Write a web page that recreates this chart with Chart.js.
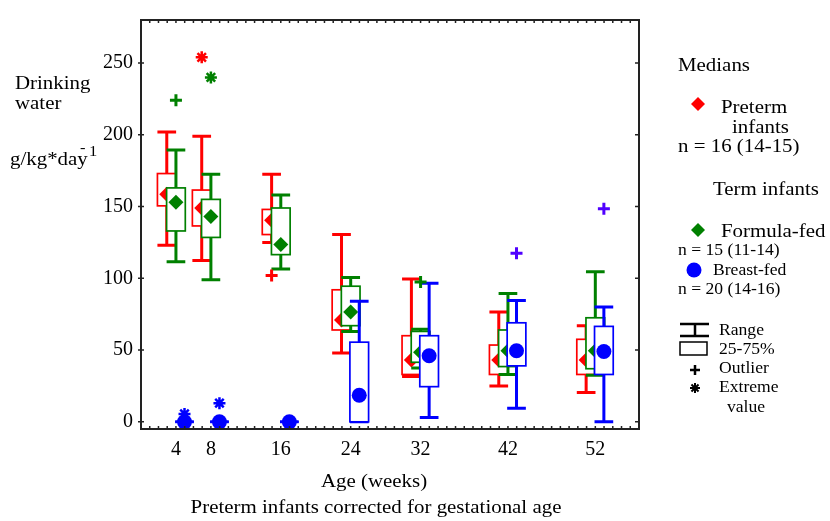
<!DOCTYPE html>
<html>
<head>
<meta charset="utf-8">
<script src="https://cdn.jsdelivr.net/npm/chart.js@4.4.1/dist/chart.umd.min.js"></script>
<style>
  html, body { margin: 0; padding: 0; background: #fff; }
  #wrap { width: 830px; height: 521px; position: relative; }
</style>
</head>
<body>
<div id="wrap"><canvas id="chart"></canvas></div>
<script>
const weeks = [4, 8, 16, 24, 32, 42, 52];
const yTicks = [0, 50, 100, 150, 200, 250];

// preterm infants (red)
const pretermMax    = [202, 199, 172.5, 130.5, 99.5, 76.5, 67];
const pretermQ3     = [173, 161.5, 148, 92, 60, 53.5, 57.5];
const pretermMedian = [158.5, 149, 140.5, 71, 43, 43, 43];
const pretermQ1     = [150.5, 136.5, 130.5, 64, 33, 33, 33];
const pretermMin    = [123, 112.5, 125, 48, 31.5, 25, 20.5];
const pretermOutliers = [[16, 102]];
const pretermExtremes = [[8, 254]];

// term infants, formula-fed (green)
const formulaMax    = [189.5, 172.5, 158, 100.5, 64.5, 89.5, 104.5];
const formulaQ3     = [163, 155, 149, 94.5, 63, 64, 72.5];
const formulaMedian = [153, 143, 123.5, 76.5, 48.5, 49.5, 49.5];
const formulaQ1     = [133, 128.5, 116.5, 67, 41.5, 38.5, 37];
const formulaMin    = [111.5, 99, 106.5, 63, 37.5, 33, 32.5];
const formulaOutliers = [[4, 224], [32, 97.5]];
const formulaExtremes = [[8, 240]];

// term infants, breast-fed (blue)
const breastMax    = [0, 0, 0, 84, 96.5, 84.5, 80];
const breastQ3     = [0, 0, 0, 55.5, 60, 69, 66.5];
const breastMedian = [0, 0, 0, 18.5, 46, 49.5, 49];
const breastQ1     = [0, 0, 0, 0, 24.5, 39, 33];
const breastMin    = [0, 0, 0, 0, 3, 9.5, 0];
const breastOutliers = [[42, 117.5], [52, 148.5]];
const breastExtremes = [[4, 5.5], [8, 13]];

const halfBox = 1.07; // half box width in weeks

const series = [
    { color: '#ff0000', outColor: '#ff0000', shift: -1.05, marker: 'rectRot', order: 30,
      min: pretermMin, q1: pretermQ1, med: pretermMedian, q3: pretermQ3, max: pretermMax,
      out: pretermOutliers, ext: pretermExtremes },
    { color: '#008000', outColor: '#008000', shift: 0, marker: 'rectRot', order: 20,
      min: formulaMin, q1: formulaQ1, med: formulaMedian, q3: formulaQ3, max: formulaMax,
      out: formulaOutliers, ext: formulaExtremes },
    { color: '#0000ff', outColor: '#5000ff', shift: 0.98, marker: 'circle', order: 10,
      min: breastMin, q1: breastQ1, med: breastMedian, q3: breastQ3, max: breastMax,
      out: breastOutliers, ext: breastExtremes }
];

const datasets = [];
series.forEach(s => {
    datasets.push({
        data: weeks.map((w, j) => ({ x: w + s.shift, y: s.med[j] })),
        pointStyle: s.marker,
        pointRadius: 7.5,
        backgroundColor: s.color,
        borderColor: s.color,
        borderWidth: 0,
        order: s.order,
        boxOf: s
    });
});
series.forEach(s => {
    datasets.push({
        data: s.out.map(p => ({ x: p[0] + s.shift, y: p[1] })),
        pointStyle: 'cross', pointRadius: 6, borderWidth: 3,
        borderColor: s.outColor, backgroundColor: s.outColor, order: 0
    });
    datasets.push({
        data: s.ext.map(p => ({ x: p[0] + s.shift, y: p[1] })),
        pointStyle: 'star', pointRadius: 6, borderWidth: 2.5,
        borderColor: s.color, backgroundColor: s.color, order: 0
    });
});

const serif = '"Liberation Serif", "Times New Roman", serif';

function txt(ctx, str, x, y, size, align) {
    ctx.save();
    ctx.font = size + 'px ' + serif;
    ctx.fillStyle = '#000';
    ctx.textBaseline = 'alphabetic';
    ctx.textAlign = align || 'left';
    ctx.translate(x, y);
    ctx.scale(1.1, 1);
    ctx.fillText(str, 0, 0);
    ctx.restore();
}

function diamond(ctx, x, y, r, color) {
    ctx.fillStyle = color;
    ctx.beginPath();
    ctx.moveTo(x, y - r); ctx.lineTo(x + r, y); ctx.lineTo(x, y + r); ctx.lineTo(x - r, y);
    ctx.closePath();
    ctx.fill();
}

// boxes + whiskers drawn just before each series' median markers
const boxPlugin = {
    id: 'boxes',
    beforeDatasetDraw(chart, args) {
        const s = chart.data.datasets[args.index].boxOf;
        if (!s) return;
        const { ctx, scales: { x, y } } = chart;
        ctx.save();
        ctx.strokeStyle = s.color;
        weeks.forEach((w, j) => {
            const cx = x.getPixelForValue(w + s.shift);
            const left = x.getPixelForValue(w + s.shift - halfBox);
            const right = x.getPixelForValue(w + s.shift + halfBox);
            const yMax = y.getPixelForValue(s.max[j]);
            const yMin = y.getPixelForValue(s.min[j]);
            const yQ3 = y.getPixelForValue(s.q3[j]);
            const yQ1 = y.getPixelForValue(s.q1[j]);
            ctx.lineWidth = 3;
            ctx.beginPath();
            ctx.moveTo(cx, yMin); ctx.lineTo(cx, yMax);
            ctx.moveTo(left, yMax); ctx.lineTo(right, yMax);
            ctx.moveTo(left, yMin); ctx.lineTo(right, yMin);
            ctx.stroke();
            ctx.fillStyle = '#fff';
            ctx.fillRect(left, yQ3, right - left, yQ1 - yQ3);
            ctx.lineWidth = 1.7;
            ctx.strokeRect(left, yQ3, right - left, yQ1 - yQ3);
        });
        ctx.restore();
    }
};

// frame, inward ticks, titles and legend
const framePlugin = {
    id: 'frame',
    afterDraw(chart) {
        const { ctx, chartArea: a, scales: { x, y } } = chart;
        ctx.save();
        ctx.strokeStyle = '#222';
        ctx.lineWidth = 2;
        ctx.strokeRect(a.left, a.top, a.right - a.left, a.bottom - a.top);
        ctx.lineWidth = 1.5;
        ctx.beginPath();
        for (let w = 1; w < x.max; w++) {
            const px = x.getPixelForValue(w);
            ctx.moveTo(px, a.bottom); ctx.lineTo(px, a.bottom - 3);
            ctx.moveTo(px, a.top); ctx.lineTo(px, a.top + 3);
        }
        yTicks.forEach(v => {
            const py = y.getPixelForValue(v);
            ctx.moveTo(a.left - 3, py); ctx.lineTo(a.left + 3, py);
            ctx.moveTo(a.right, py); ctx.lineTo(a.right - 4, py);
        });
        ctx.stroke();

        // axis titles
        txt(ctx, 'Drinking', 15, 89, 19);
        txt(ctx, 'water', 15, 109, 19);
        txt(ctx, 'g/kg*day', 10, 165, 19);
        txt(ctx, '-', 80, 152, 15);
        txt(ctx, '1', 89, 156, 15);
        txt(ctx, 'Age (weeks)', 374, 487, 19, 'center');
        txt(ctx, 'Preterm infants corrected for gestational age', 376, 513, 19, 'center');

        // legend
        txt(ctx, 'Medians', 678, 71, 19);
        diamond(ctx, 698, 104, 7, '#ff0000');
        txt(ctx, 'Preterm', 721, 113, 19);
        txt(ctx, 'infants', 732, 133, 19);
        txt(ctx, 'n = 16 (14-15)', 678, 152, 19);
        txt(ctx, 'Term infants', 713, 195, 19);
        diamond(ctx, 698, 230, 7, '#008000');
        txt(ctx, 'Formula-fed', 721, 237, 19);
        txt(ctx, 'n = 15 (11-14)', 678, 255, 16);
        ctx.fillStyle = '#0000ff';
        ctx.beginPath(); ctx.arc(694, 270, 7.5, 0, Math.PI * 2); ctx.fill();
        txt(ctx, 'Breast-fed', 713, 275, 16);
        txt(ctx, 'n = 20 (14-16)', 678, 294, 16);

        ctx.strokeStyle = '#000';
        ctx.lineWidth = 2.5;
        ctx.beginPath();
        ctx.moveTo(680, 324); ctx.lineTo(709, 324);
        ctx.moveTo(680, 336); ctx.lineTo(709, 336);
        ctx.moveTo(695, 324); ctx.lineTo(695, 336);
        ctx.moveTo(690, 370); ctx.lineTo(700, 370);
        ctx.moveTo(695, 365); ctx.lineTo(695, 375);
        ctx.stroke();
        ctx.lineWidth = 1.5;
        ctx.strokeRect(680, 342, 27, 13);
        ctx.lineWidth = 2;
        ctx.beginPath();
        for (let k = 0; k < 4; k++) {
            const ang = k * Math.PI / 4;
            ctx.moveTo(695 - 5 * Math.cos(ang), 388 - 5 * Math.sin(ang));
            ctx.lineTo(695 + 5 * Math.cos(ang), 388 + 5 * Math.sin(ang));
        }
        ctx.stroke();
        txt(ctx, 'Range', 719, 335, 16);
        txt(ctx, '25-75%', 719, 354, 16);
        txt(ctx, 'Outlier', 719, 373, 16);
        txt(ctx, 'Extreme', 719, 392, 16);
        txt(ctx, 'value', 727, 412, 16);
        ctx.restore();
    }
};

new Chart(document.getElementById('chart'), {
    type: 'scatter',
    data: { datasets: datasets },
    plugins: [boxPlugin, framePlugin],
    options: {
        responsive: true,
        maintainAspectRatio: false,
        animation: false,
        layout: { padding: { left: 0, top: 10, right: 191, bottom: 0 } },
        plugins: { legend: { display: false }, tooltip: { enabled: false } },
        scales: {
            x: {
                type: 'linear', min: 0, max: 57,
                grid: { display: false, drawTicks: false },
                border: { display: false },
                afterBuildTicks: s => { s.ticks = weeks.map(v => ({ value: v })); },
                afterFit: s => { s.height = 92; },
                ticks: { autoSkip: false, maxRotation: 0, padding: 9, color: '#000',
                         font: { family: serif, size: 20 } }
            },
            y: {
                type: 'linear', min: -5, max: 280,
                grid: { display: false, drawTicks: false },
                border: { display: false },
                afterBuildTicks: s => { s.ticks = yTicks.map(v => ({ value: v })); },
                afterFit: s => { s.width = 141; },
                ticks: { padding: 8, color: '#000', font: { family: serif, size: 20 } }
            }
        }
    }
});
</script>
</body>
</html>
